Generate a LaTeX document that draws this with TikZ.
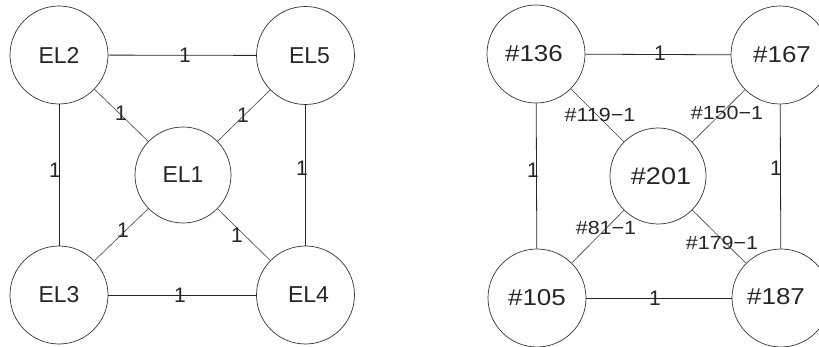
\documentclass[tikz,border=0pt]{standalone}
\usepackage{fontspec}
\setmainfont{Liberation Sans}
\newfontfamily\numfont[FakeStretch=1.13]{Liberation Sans}
\begin{document}
\begin{tikzpicture}[x=1pt,y=-1pt,
  vertex/.style={circle,draw=black!80,line width=0.7pt,minimum size=98pt,inner sep=0pt,text=black!85,font=\fontsize{23}{23}\selectfont},
  hub/.style={vertex,minimum size=96pt},
  link/.style={draw=black!85,line width=0.8pt},
  diag/.style={draw=black!75,line width=0.6pt},
  wt/.style={inner sep=0pt,text=black!85,font=\fontsize{21}{21}\selectfont},
  tag/.style={inner sep=0pt,text=black!85,font=\numfont\fontsize{19}{19}\selectfont}]
\useasboundingbox (0,0) rectangle (819,347);
% left graph
\node[vertex] (el2) at (59,55) {EL2};
\node[vertex] (el5) at (305.5,55.5) {\hspace{8pt}EL5};
\node[vertex] (el3) at (59,295) {\raisebox{-5pt}{EL3}};
\node[vertex] (el4) at (305.5,295) {\hspace{6pt}EL4};
\node[hub] (el1) at (183,175) {EL1};
\draw[link] (el2) -- (el5);
\draw[link] (el3) -- (el4);
\draw[link] (el2) -- (el3);
\draw[link] (el5) -- (el4);
\draw[diag] (el2) -- (el1);
\draw[diag] (el5) -- (el1);
\draw[diag] (el3) -- (el1);
\draw[diag] (el4) -- (el1);
\node[wt] (w1) at (185,55) {1};
\node[wt] (w2) at (180,295) {1};
\node[wt] (w3) at (55,170) {1};
\node[wt] (w4) at (302,168) {1};
\node[wt] (w5) at (121,113) {1};
\node[wt] (w6) at (243,115) {1};
\node[wt] (w7) at (123,230) {1};
\node[wt] (w8) at (237,235) {1};
% right graph
\node[vertex,font=\numfont\fontsize{23}{23}\selectfont] (n136) at (536,54) {\hspace{-4pt}\#136};
\node[vertex,font=\numfont\fontsize{23}{23}\selectfont] (n167) at (780,55) {\raisebox{-3pt}{\hspace{4pt}\#167}};
\node[vertex,font=\numfont\fontsize{23}{23}\selectfont] (n105) at (537,298) {\#105};
\node[vertex,font=\numfont\fontsize{23}{23}\selectfont] (n187) at (781,298) {\raisebox{3pt}{\hspace{-10pt}\#187}};
\node[hub,font=\numfont\fontsize{24}{24}\selectfont] (n201) at (658,176) {\raisebox{-2pt}{\hspace{6pt}\#201}};
\draw[link] (n136) -- (n167);
\draw[link] (n105) -- (n187);
\draw[link] (n136) -- (n105);
\draw[link] (n167) -- (n187);
\draw[diag] (n136) -- (n201);
\draw[diag] (n167) -- (n201);
\draw[diag] (n105) -- (n201);
\draw[diag] (n187) -- (n201);
\node[wt] (r1) at (660,53) {1};
\node[wt] (r2) at (655,298) {1};
\node[wt] (r3) at (533,170) {1};
\node[wt] (r4) at (776,168) {1};
\node[tag] (t1) at (600,115) {\#119−1};
\node[tag] (t2) at (727,113) {\#150−1};
\node[tag] (t3) at (606,228) {\#81−1};
\node[tag] (t4) at (722,243) {\#179−1};
\end{tikzpicture}
\end{document}
